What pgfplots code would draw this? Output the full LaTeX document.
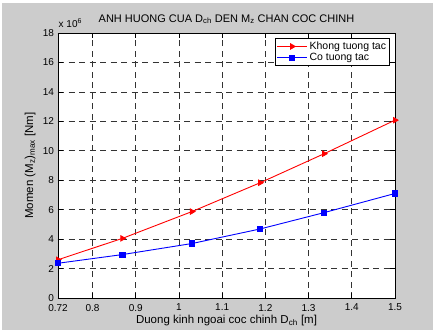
\documentclass[border=0pt]{standalone}
\usepackage{fontspec}
\setmainfont{Liberation Sans}
\usepackage{pgfplots}
\pgfplotsset{compat=1.18}
\usetikzlibrary{backgrounds}
\definecolor{figgray}{RGB}{204,204,204}
\definecolor{mred}{RGB}{255,0,0}
\definecolor{mblue}{RGB}{0,0,255}

\begin{document}
\begin{tikzpicture}[x=1pt,y=1pt]
\begin{axis}[
  name=ax,
  scale only axis, width=337pt, height=265pt,
  xmin=0.72, xmax=1.5, ymin=0, ymax=18,
  xtick={0.72,0.8,0.9,1,1.1,1.2,1.3,1.4,1.5},
  xticklabels={0.72,0.8,0.9,1,1.1,1.2,1.3,1.4,1.5},
  ytick={0,2,4,6,8,10,12,14,16,18},
  yticklabels={0,2,4,6,8,10,12,14,16,18},
  axis background/.style={fill=white},
  axis line style={black, line width=0.8pt},
  grid=major,
  major grid style={black!80, dash pattern=on 6pt off 4.5pt, line width=0.7pt},
  tick align=inside, xtick pos=both, ytick pos=both,
  major tick length=5pt,
  tick style={black, line width=0.7pt},
  tick label style={font=\fontsize{10}{12}\selectfont},
  /pgf/number format/assume math mode=true,
  xticklabel style={yshift=-2.5pt},
  yticklabel style={xshift=-0.5pt},
  legend style={at={(rel axis cs:1,1)}, anchor=north east, xshift=-5pt, yshift=-5pt,
    draw=black, line width=0.8pt, fill=white, font=\fontsize{10.5}{12}\selectfont,
    inner sep=1.5pt, row sep=-1.5pt},
  legend cell align=left,
  legend image code/.code={%
    \draw[mark repeat=2, mark phase=2, #1] plot coordinates {(0pt,0pt) (15pt,0pt) (30pt,0pt)};},
]
\addplot[mred, line width=0.9pt, mark=triangle*, mark size=3pt,
  mark options={rotate=-90, fill=mred, solid}]
  coordinates {(0.72,2.6) (0.869,4.05) (1.03,5.87) (1.188,7.83) (1.336,9.8) (1.5,12.08)};
\addlegendentry{Khong tuong tac}
\addplot[mblue, line width=0.9pt, mark=square*, mark size=2.6pt,
  mark options={fill=mblue, solid}]
  coordinates {(0.72,2.36) (0.869,2.95) (1.03,3.7) (1.188,4.69) (1.336,5.8) (1.5,7.1)};
\addlegendentry{Co tuong tac}
\end{axis}
% titles and labels, placed from the axis box's lower left corner
\begin{scope}[shift={(ax.south west)}]
\node[anchor=base, font=\fontsize{11}{13}\selectfont] at (168.5,276)
  {ANH HUONG CUA D\textsubscript{ch} DEN M\textsubscript{z} CHAN COC CHINH};
\node[anchor=base west, font=\fontsize{10}{12}\selectfont, inner sep=0pt] at (0.5,270.5)
  {x 10\textsuperscript{6}};
\node[anchor=base, font=\fontsize{11.5}{13}\selectfont] at (168.5,-25.5)
  {Duong kinh ngoai coc chinh D\textsubscript{ch} [m]};
\node[anchor=base, rotate=90, font=\fontsize{11.5}{13}\selectfont] at (-25,132.5)
  {Momen (M\textsubscript{z})\textsubscript{max} [Nm]};
\end{scope}
% figure background
\begin{scope}[on background layer, shift={(ax.south west)}]
\fill[white] (-58,-32) rectangle (375,298);
\fill[figgray] (-56,-32) rectangle (375,295);
\end{scope}
\end{tikzpicture}
\end{document}
